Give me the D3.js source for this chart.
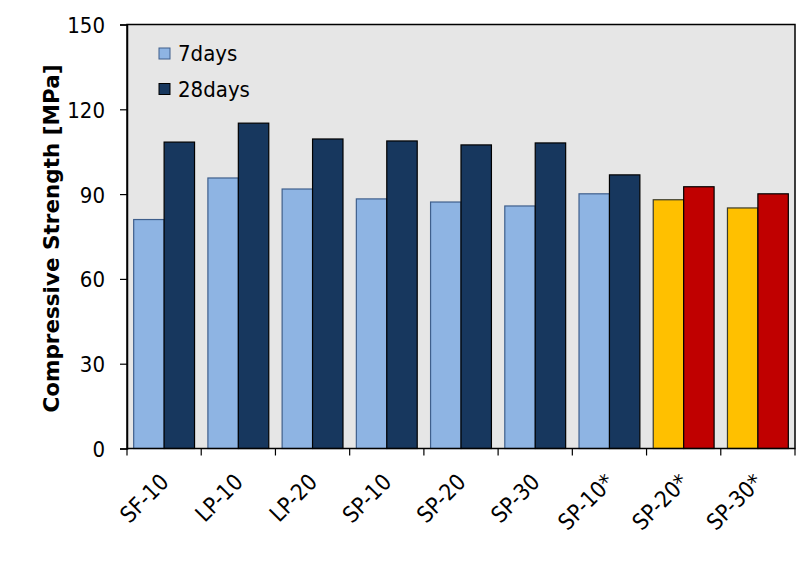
<!DOCTYPE html>
<html>
<head>
<meta charset="utf-8">
<script src="https://cdn.jsdelivr.net/npm/d3@7"></script>
<style>
  html, body { margin: 0; padding: 0; background: #ffffff; }
  svg { display: block; }
  text { font-family: "DejaVu Sans Condensed", "DejaVu Sans", sans-serif; fill: #000; }
</style>
</head>
<body>
<script>
const categories = ["SF-10", "LP-10", "LP-20", "SP-10", "SP-20", "SP-30", "SP-10*", "SP-20*", "SP-30*"];
const seriesNames = ["7days", "28days"];
const days7  = [81.0, 95.7, 91.8, 88.3, 87.2, 85.8, 90.1, 88.0, 85.1];
const days28 = [108.4, 115.1, 109.5, 108.8, 107.4, 108.1, 96.8, 92.6, 90.1];
const highlighted = ["SP-20*", "SP-30*"];
const yTicks = [0, 30, 60, 90, 120, 150];

const W = 805, H = 562;
const m = { left: 127, right: 10, top: 24.5, bottom: 113.5 };
const pw = W - m.left - m.right, ph = H - m.top - m.bottom;

const normalFill = { "7days": "#8EB4E3", "28days": "#17375E" };
const normalStroke = { "7days": "#3F5F8C", "28days": "#000000" };
const hiFill = { "7days": "#FFC000", "28days": "#C00000" };
const hiStroke = { "7days": "#3a3a2a", "28days": "#000000" };
const FONT = "'DejaVu Sans Condensed', 'DejaVu Sans', sans-serif";

const svg = d3.select("body").append("svg").attr("width", W).attr("height", H);
const g = svg.append("g").attr("transform", `translate(${m.left},${m.top})`);

const x0 = d3.scaleBand().domain(categories).range([0, pw]).padding(0);
const step = x0.step();
const x1 = d3.scaleBand().domain(seriesNames).range([step * 0.09, step * 0.91]).padding(0);
const y = d3.scaleLinear().domain([0, 150]).range([ph, 0]);

g.append("rect").attr("x", 0).attr("y", 0).attr("width", pw).attr("height", ph)
  .attr("fill", "#E6E6E6");

const data = categories.map((c, i) => ({ cat: c, vals: [
  { key: "7days", v: days7[i] }, { key: "28days", v: days28[i] } ] }));

const groups = g.selectAll("g.grp").data(data).join("g")
  .attr("class", "grp").attr("transform", d => `translate(${x0(d.cat)},0)`);

groups.selectAll("rect").data(d => d.vals.map(o => ({ ...o, cat: d.cat }))).join("rect")
  .attr("x", d => x1(d.key))
  .attr("width", x1.bandwidth())
  .attr("y", d => y(d.v))
  .attr("height", d => ph - y(d.v))
  .attr("fill", d => highlighted.includes(d.cat) ? hiFill[d.key] : normalFill[d.key])
  .attr("stroke", d => highlighted.includes(d.cat) ? hiStroke[d.key] : normalStroke[d.key])
  .attr("stroke-width", 1.2);

g.append("rect").attr("x", 0).attr("y", 0).attr("width", pw).attr("height", ph)
  .attr("fill", "none").attr("stroke", "#000").attr("stroke-width", 1.5);

const yAxis = g.append("g").call(d3.axisLeft(y).tickValues(yTicks).tickSize(7).tickPadding(15));
yAxis.select(".domain").attr("stroke", "#000").attr("stroke-width", 1.5);
yAxis.selectAll(".tick line").attr("stroke", "#000").attr("stroke-width", 1.2);
yAxis.selectAll(".tick text").style("font-size", "22px").style("font-family", FONT).attr("dy", "0.36em");

const boundaries = categories.map(c => x0(c)).concat([pw]);
const xAxisG = g.append("g").attr("transform", `translate(0,${ph})`);
xAxisG.selectAll("line.xt").data(boundaries).join("line")
  .attr("class", "xt").attr("x1", d => d).attr("x2", d => d)
  .attr("y1", 0).attr("y2", 7).attr("stroke", "#000").attr("stroke-width", 1.2);
xAxisG.selectAll("text.xl").data(categories).join("text")
  .attr("class", "xl")
  .attr("text-anchor", "end")
  .attr("transform", d => `translate(${x0(d) + step / 2 + 6},${35}) rotate(-45)`)
  .style("font-size", "22.5px").style("font-family", FONT)
  .text(d => d);

svg.append("text")
  .attr("transform", `translate(59,${m.top + ph / 2 + 2}) rotate(-90)`)
  .attr("text-anchor", "middle")
  .style("font-size", "21.5px").style("font-weight", "bold")
  .style("font-family", "'DejaVu Sans', sans-serif")
  .text("Compressive Strength [MPa]");

const legend = g.append("g").attr("transform", "translate(32,23.5)");
seriesNames.forEach((s, i) => {
  const lg = legend.append("g").attr("transform", `translate(0,${i * 35.5})`);
  lg.append("rect").attr("x", 0).attr("y", 0).attr("width", 11).attr("height", 11)
    .attr("fill", normalFill[s]).attr("stroke", normalStroke[s]).attr("stroke-width", 1);
  lg.append("text").attr("x", 19).attr("y", 13).style("font-size", "22px").style("font-family", FONT).text(s);
});
</script>
</body>
</html>
